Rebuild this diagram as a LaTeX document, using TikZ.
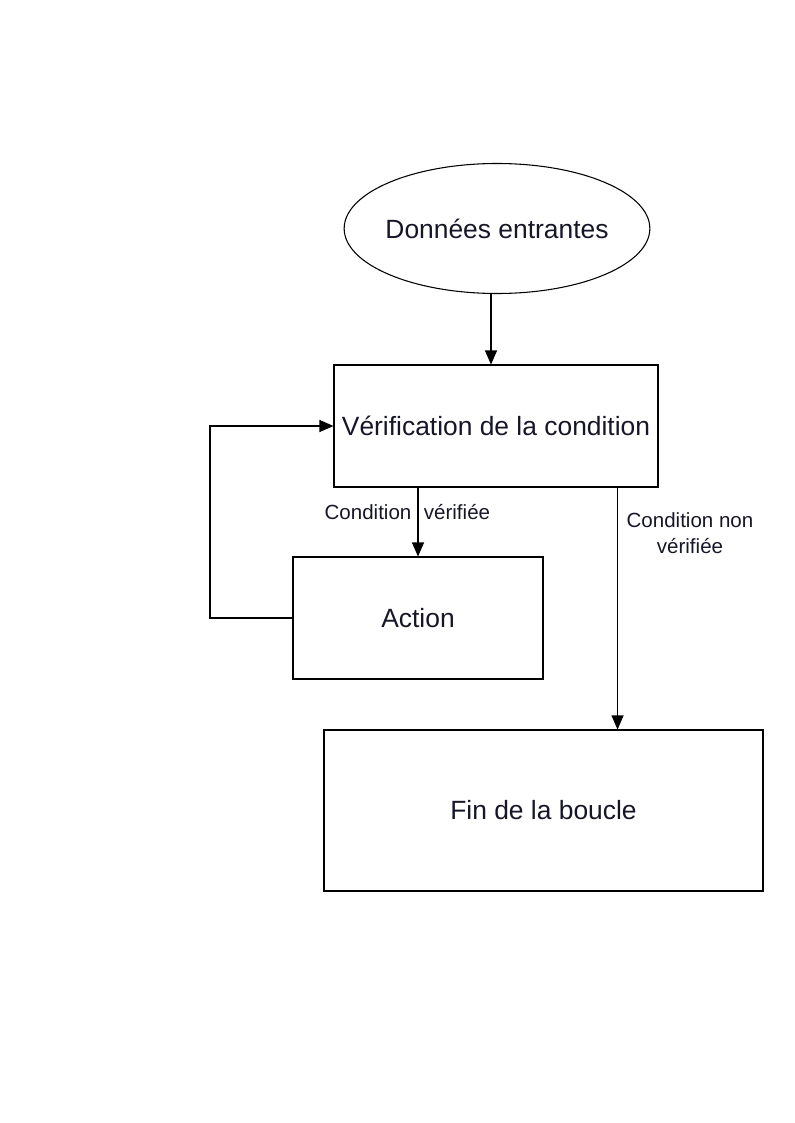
\documentclass[tikz,border=0pt]{standalone}
\usepackage{fontspec}
\setmainfont{Liberation Sans}
\usetikzlibrary{arrows.meta,calc,shapes.geometric}
\definecolor{txt}{RGB}{22,22,40}
\begin{document}
\begin{tikzpicture}[x=0.75pt,y=-0.75pt,
  every node/.style={text=txt},
  box/.style={draw=black,line width=0.8pt,rectangle,inner sep=0pt,font=\fontsize{19.8}{23}\selectfont},
  lbl/.style={font=\fontsize{15.4}{19}\selectfont,inner sep=0pt,align=center},
  arr/.style={draw=black,line width=0.8pt,-{Triangle[length=10.5pt,width=9pt]}},
  ln/.style={draw=black,line width=0.8pt}]
\useasboundingbox (0,0) rectangle (794,1123);
\node[box,ellipse,inner xsep=-2.6pt,minimum width=226pt,minimum height=97.5pt] (ell) at (497,228.5) {Données entrantes};
\node[box,minimum width=243pt,minimum height=91.5pt] (b1) at (496,426) {Vérification de la condition};
\node[box,minimum width=187.5pt,minimum height=91.5pt] (b2) at (418,618) {Action};
\node[box,minimum width=329.25pt,minimum height=120.75pt] (b3) at (543.5,810.5) {Fin de la boucle};
\draw[arr] ($(ell.south)+(-6,0)$) coordinate (s1) -- (s1 |- b1.north);
\draw[arr] (b2.north |- b1.south) -- (b2.north);
\coordinate (L) at (210,618);
\draw[arr] (b2.west) -- (L) |- (b1.west);
\draw[arr] ($(b1.south east)+(-41,0)$) coordinate (s3) -- (s3 |- b3.north);
\node[lbl] (l1) at (368,512) {Condition};
\node[lbl] (l2) at (457,512) {vérifiée};
\node[lbl] (l3) at (690,533) {Condition non\\vérifiée};
\end{tikzpicture}
\end{document}
